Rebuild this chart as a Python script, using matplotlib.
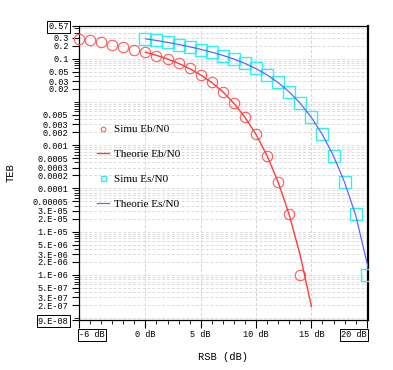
import matplotlib
matplotlib.use('Agg')
import matplotlib.pyplot as plt
from matplotlib.ticker import FixedLocator, LogLocator, NullFormatter

# valeurs (TEB de la 16-QAM)
rsb_eb_simu = [-6, -5, -4, -3, -2, -1, 0, 1, 2, 3, 4, 5, 6, 7, 8, 9, 10, 11, 12, 13, 14]
teb_simu = [0.29, 0.262, 0.236, 0.21, 0.188, 0.162, 0.140, 0.117, 0.096, 0.078, 0.059, 0.042,
            0.028, 0.017, 0.0093, 0.0044, 0.0018, 0.00057, 0.00014, 2.6e-5, 1.0e-6]
rsb_es_simu = [0, 1, 2, 3, 4, 5, 6, 7, 8, 9, 10, 11, 12, 13, 14, 15, 16, 17, 18, 19, 20]

rsb_eb_theo = [0, 1, 2, 3, 4, 5, 6, 7, 8, 9, 10, 11, 12, 13, 14, 15]
teb_theo_eb = [0.141, 0.119, 0.0978, 0.0774, 0.0586, 0.0419, 0.0279, 0.0170, 0.00925, 0.00439,
               0.00175, 0.000565, 0.000139, 2.43e-5, 2.76e-6, 1.84e-7]
rsb_es_theo = [0, 1, 2, 3, 4, 5, 6, 7, 8, 9, 10, 11, 12, 13, 14, 15, 16, 17, 18, 19, 20, 21]
teb_theo_es = [0.287, 0.2625, 0.2372, 0.2121, 0.1877, 0.1642, 0.1404, 0.1186, 0.0977, 0.0773,
               0.0585, 0.0418, 0.0278, 0.0169, 0.00921, 0.00436, 0.00174, 0.000560, 0.000137,
               2.40e-5, 2.00e-6, 1.50e-7]

y_ticks = [0.57, 0.3, 0.2, 0.1, 0.05, 0.03, 0.02, 0.005, 0.003, 0.002, 0.001, 0.0005, 0.0003,
           0.0002, 0.0001, 0.00005, 3e-5, 2e-5, 1e-5, 5e-6, 3e-6, 2e-6, 1e-6, 5e-7, 3e-7, 2e-7, 9e-8]
y_labels = ['0.57', '0.3', '0.2', '0.1', '0.05', '0.03', '0.02', '0.005', '0.003', '0.002',
            '0.001', '0.0005', '0.0003', '0.0002', '0.0001', '0.00005', '3.E-05', '2.E-05',
            '1.E-05', '5.E-06', '3.E-06', '2.E-06', '1.E-06', '5.E-07', '3.E-07', '2.E-07', '9.E-08']
x_ticks = [-6, 0, 5, 10, 15, 20]
x_labels = ['-6 dB', '0 dB', '5 dB', '10 dB', '15 dB', '20 dB']

mono = 'Liberation Mono'

fig = plt.figure(figsize=(3.93, 3.70), dpi=100)
ax = fig.add_axes([0.201, 0.135, 0.735, 0.795])

ax.plot(rsb_eb_simu, teb_simu, 'o', mfc='none', mec='#ff5a5a', ms=7.5, mew=0.8,
        label='Simu Eb/N0', clip_on=False, zorder=3)
ax.plot(rsb_eb_theo, teb_theo_eb, '-', color='#ff3c3c', lw=1.0, label='Theorie Eb/N0', zorder=4)
ax.plot(rsb_es_simu, teb_simu, 's', mfc='none', mec='#30f0f0', ms=8, mew=1.0,
        label='Simu Es/N0', zorder=3)
ax.plot(rsb_es_theo, teb_theo_es, '-', color='#6464ff', lw=0.9, label='Theorie Es/N0', zorder=4)

ax.set_yscale('log')
ax.set_ylim(9e-8, 0.57)
ax.set_xlim(-6, 20.1)

ax.yaxis.set_major_locator(FixedLocator(y_ticks))
ax.set_yticklabels(y_labels, fontfamily=mono, fontsize=6.2)
ax.yaxis.set_minor_locator(LogLocator(base=10, subs=range(1, 10), numticks=20))
ax.yaxis.set_minor_formatter(NullFormatter())
ax.set_xticks(x_ticks)
ax.set_xticklabels(x_labels, fontfamily=mono, fontsize=6.2)
ax.set_xticks(range(-6, 21), minor=True)

ax.tick_params(axis='y', which='major', direction='out', length=5, width=0.8, pad=2.5)
ax.tick_params(axis='y', which='minor', direction='out', length=3.5, width=0.6)
ax.tick_params(axis='x', which='major', direction='out', length=6, width=0.8, pad=1.5)
ax.tick_params(axis='x', which='minor', direction='out', length=3, width=0.6)

# libelles encadres aux bornes
box = dict(facecolor='white', edgecolor='black', lw=0.7, pad=0.8)
ylabs = ax.get_yticklabels()
ylabs[0].set_bbox(box)
ylabs[-1].set_bbox(box)
xlabs = ax.get_xticklabels()
xlabs[0].set_ha('left')
xlabs[0].set_bbox(box)
xlabs[-1].set_ha('right')
xlabs[-1].set_bbox(box)

# grille
ax.grid(True, which='both', axis='y', color='#dcdcdc', ls=(0, (3, 2)), lw=0.7)
ax.grid(True, which='major', axis='x', color='#d4d4d4', ls=(0, (3, 2)), lw=0.7)
ax.set_axisbelow(True)

for sp in ax.spines.values():
    sp.set_color('black')
    sp.set_linewidth(0.9)
ax.spines['right'].set_linewidth(1.6)

ax.set_xlabel('RSB (dB)', fontfamily=mono, fontsize=7.5, labelpad=9)
ax.set_ylabel('TEB', fontfamily=mono, fontsize=7.5)
ax.yaxis.set_label_coords(-0.22, 0.5)

ax.legend(loc='upper left', bbox_to_anchor=(0.222, 0.69), bbox_transform=fig.transFigure,
          frameon=False, prop={'family': 'Liberation Serif', 'size': 8},
          markerscale=0.45, labelspacing=1.35, handlelength=1.1, handletextpad=0.4)

fig.savefig('out.png', dpi=100)
